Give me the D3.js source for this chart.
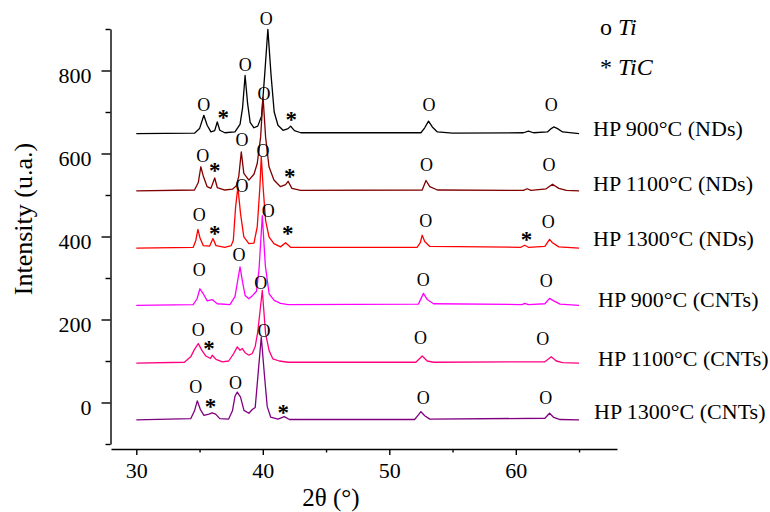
<!DOCTYPE html>
<html>
<head>
<meta charset="utf-8">
<script src="https://cdn.jsdelivr.net/npm/d3@7"></script>
<style>
    body { margin: 0; background: #ffffff; }
</style>
</head>
<body>
<div id="chart"></div>
<script>

// axis ticks
let xTicks = [30, 40, 50, 60];
let xMinorTicks = [35, 45, 55, 65];
let yTicks = [0, 200, 400, 600, 800];
let yMinorTicks = [-100, 100, 300, 500, 700, 900];

let seriesNames = ['HP 900°C (NDs)', 'HP 1100°C (NDs)', 'HP 1300°C (NDs)',
                   'HP 900°C (CNTs)', 'HP 1100°C (CNTs)', 'HP 1300°C (CNTs)'];
let seriesColors = ['#000000', '#800000', '#ff0000', '#ff00ff', '#ff0080', '#800080'];

// [2theta, intensity]
let hp900NDs = [[30,648],[34.6,649],[35.0,660],[35.34,692],[35.6,668],[35.9,652],[36.2,655],[36.4,676],[36.6,656],
    [37.0,650],[37.8,652],[38.2,670],[38.4,710],[38.6,788],[38.8,720],[39.0,675],[39.3,662],[39.6,666],[39.9,690],
    [40.15,790],[40.4,899],[40.65,790],[40.9,700],[41.2,668],[41.6,656],[42.0,660],[42.2,666],[42.5,655],[43,650],
    [52.5,650],[52.8,662],[53.1,678],[53.4,664],[53.8,652],[55,649],[60.6,650],[61.0,654],[61.4,650],
    [62.5,652],[62.8,660],[63.0,664],[63.3,660],[63.7,652],[65,648]];
let hp1100NDs = [[30,510],[34.6,512],[34.9,530],[35.1,568],[35.3,545],[35.6,520],[35.9,516],[36.2,541],[36.4,518],
    [37.0,512],[37.6,514],[37.9,522],[38.1,545],[38.3,604],[38.5,552],[38.9,536],[39.3,550],[39.56,576],[39.83,640],
    [40.02,736],[40.22,640],[40.49,568],[40.88,536],[41.4,520],[41.8,525],[42.0,533],[42.3,516],[43,511],
    [52.6,512],[52.9,535],[53.2,520],[53.8,512],[60.6,511],[60.9,515],[61.2,511],[62.4,515],[62.9,526],
    [63.4,516],[64,511],[65,510]];
let hp1300NDs = [[30,372],[34.5,374],[34.7,390],[34.87,417],[35.05,395],[35.3,378],[35.8,377],[36.06,395],[36.3,378],
    [37.0,374],[37.5,378],[37.67,391],[37.85,471],[38.03,519],[38.24,455],[38.5,399],[38.9,383],[39.3,384],
    [39.56,423],[39.77,519],[39.88,592],[40.04,512],[40.22,439],[40.49,399],[40.88,383],[41.4,375],[41.8,385],
    [42.2,374],[52.2,374],[52.45,385],[52.6,403],[52.8,388],[53.2,376],[60.4,374],[60.7,379],[61.0,374],
    [62.3,376],[62.67,393],[62.9,385],[63.4,375],[65,372]];
let hp900CNTs = [[30,234],[34.5,236],[34.8,250],[35.03,274],[35.3,262],[35.6,245],[36.0,248],[36.4,238],[37.4,236],
    [37.8,255],[38.05,300],[38.2,327],[38.4,290],[38.6,258],[38.9,250],[39.2,258],[39.5,268],[39.7,320],[39.96,450],
    [40.2,330],[40.5,262],[40.9,246],[41.4,239],[42,236],[52.3,237],[52.7,263],[53.0,248],[53.5,238],[60.5,236],
    [60.7,239],[61,236],[62.3,238],[62.67,251],[63.0,245],[63.5,237],[65,234]];
let hp1100CNTs = [[30,95],[33.8,97],[34.3,110],[34.6,128],[34.9,142],[35.2,125],[35.5,112],[35.87,106],[36.0,114],
    [36.3,104],[36.8,98],[37.3,100],[37.7,118],[37.98,134],[38.2,126],[38.38,130],[38.6,120],[38.9,114],[39.17,118],
    [39.4,135],[39.6,170],[39.96,270],[40.22,166],[40.5,125],[40.8,105],[41.3,100],[42,97],[52.1,97],[52.6,112],
    [53.0,100],[53.5,97],[62.3,98],[62.8,110],[63.2,100],[63.7,96],[65,95]];
let hp1300CNTs = [[30,-42],[34.3,-39],[34.6,-20],[34.82,4],[35.08,-18],[35.35,-31],[35.74,-28],[36.0,-25],[36.27,-28],
    [36.6,-39],[37.3,-40],[37.6,-20],[37.8,15],[37.98,25],[38.24,13],[38.51,-19],[38.9,-26],[39.17,-17],[39.4,-12],
    [39.56,45],[39.88,158],[40.14,62],[40.35,-10],[40.62,-35],[41.2,-40],[41.7,-34],[42.1,-41],[52.0,-41],
    [52.3,-30],[52.5,-22],[52.8,-32],[53.2,-40],[62.3,-38],[62.67,-26],[63.0,-36],[63.5,-41],[65,-42]];

// phase marks: [2theta, intensity, symbol]  O = Ti, * = TiC
let marks900NDs = [[35.34,716,'O'],[36.88,697,'*'],[38.62,813,'O'],[40.28,924,'O'],[42.25,692,'*'],[53.13,716,'O'],[62.81,716,'O']];
let marks1100NDs = [[35.26,593,'O'],[36.21,570,'*'],[38.35,632,'O'],[40.09,743,'O'],[42.14,556,'*'],[52.95,573,'O'],[62.62,572,'O']];
let marks1300NDs = [[34.98,453,'O'],[36.21,417,'*'],[38.36,521,'O'],[40.01,605,'O'],[41.98,417,'*'],[52.89,438,'O'],[60.85,403,'*'],[62.57,435,'O']];
let marks900CNTs = [[34.98,319,'O'],[38.11,355,'O'],[40.43,461,'O'],[52.69,296,'O'],[62.41,292,'O']];
let marks1100CNTs = [[34.9,174,'O'],[35.74,142,'*'],[37.93,178,'O'],[39.83,289,'O'],[52.47,156,'O'],[62.14,152,'O']];
let marks1300CNTs = [[34.69,38,'O'],[35.87,1,'*'],[37.85,46,'O'],[40.09,172,'O'],[41.62,-14,'*'],[52.69,11,'O'],[62.36,10,'O']];

let seriesData = [hp900NDs, hp1100NDs, hp1300NDs, hp900CNTs, hp1100CNTs, hp1300CNTs];
let seriesMarks = [marks900NDs, marks1100NDs, marks1300NDs, marks900CNTs, marks1100CNTs, marks1300CNTs];

// one family only: the renderer does not take a fallback list
let serifFont = "'Liberation Serif'";


function createSVG(containerId, width, height) {
    try {
        return d3.select(containerId)
            .append('svg')
            .attr('width', width)
            .attr('height', height);
    } catch (error) {
        console.log('Function: createSVG. Error: ' + error);
        return null;
    }
}

function createAxes(svg, x, y) {
    try {
        // y axis, ticks outward to the left
        let gy = svg.append('g').attr('transform', 'translate(110.5,0)');
        gy.call(d3.axisLeft(y).tickValues(yTicks).tickSize(9).tickSizeOuter(0).tickPadding(10));
        gy.append('g').call(d3.axisLeft(y).tickValues(yMinorTicks).tickSize(5).tickFormat(''))
            .select('.domain').remove();
        gy.selectAll('text').attr('font-size', 22).attr('dy', '0.55em');

        // x axis, detached under the y axis
        let gx = svg.append('g').attr('transform', 'translate(0,449)');
        gx.call(d3.axisBottom(x).tickValues(xTicks).tickSize(6).tickSizeOuter(0).tickPadding(7));
        gx.append('g').call(d3.axisBottom(x).tickValues(xMinorTicks).tickSize(3.5).tickFormat(''))
            .select('.domain').remove();
        gx.selectAll('text').attr('font-size', 22);

        svg.selectAll('.domain, .tick line').attr('stroke', '#000').attr('stroke-width', 1.4);

        svg.append('text')
            .attr('x', 331).attr('y', 506)
            .attr('text-anchor', 'middle')
            .attr('font-size', 25)
            .text('2θ (°)');

        svg.append('text')
            .attr('transform', 'translate(32,219) rotate(-90)')
            .attr('text-anchor', 'middle')
            .attr('font-size', 26)
            .text('Intensity (u.a.)');
    } catch (error) {
        console.log('Function: createAxes. Error: ' + error);
    }
}

function createPatterns(svg, x, y) {
    try {
        let line = d3.line().x(d => x(d[0])).y(d => y(d[1]));

        svg.selectAll('path.pattern')
            .data(seriesData).enter()
            .append('path')
            .attr('class', 'pattern')
            .attr('d', d => line(d))
            .attr('fill', 'none')
            .attr('stroke', (d, i) => seriesColors[i])
            .attr('stroke-width', 1.3)
            .attr('stroke-linejoin', 'round');
    } catch (error) {
        console.log('Function: createPatterns. Error: ' + error);
    }
}

function createMarks(svg, x, y) {
    try {
        let all = [];
        seriesMarks.forEach(list => list.forEach(m => all.push(m)));

        svg.selectAll('text.mark')
            .data(all).enter()
            .append('text')
            .attr('class', 'mark')
            .attr('x', d => x(d[0]))
            .attr('y', d => y(d[1]) + (d[2] === '*' ? 12 : 6))
            .attr('text-anchor', 'middle')
            .attr('font-size', d => d[2] === '*' ? 23 : 18)
            .attr('font-weight', d => d[2] === '*' ? 'bold' : 'normal')
            .text(d => d[2]);
    } catch (error) {
        console.log('Function: createMarks. Error: ' + error);
    }
}

function createLabels(svg) {
    try {
        let labelX = [593, 593, 593, 598, 598, 594];
        let labelY = [136, 191, 246, 307, 366, 419];

        svg.selectAll('text.series')
            .data(seriesNames).enter()
            .append('text')
            .attr('class', 'series')
            .attr('x', (d, i) => labelX[i])
            .attr('y', (d, i) => labelY[i])
            .attr('font-size', 22)
            .text(d => d);

        let ti = svg.append('text').attr('x', 600).attr('y', 35).attr('font-size', 24);
        ti.append('tspan').text('o ');
        ti.append('tspan').attr('font-style', 'italic').text('Ti');

        let tic = svg.append('text').attr('x', 600).attr('y', 75).attr('font-size', 24);
        tic.append('tspan').text('* ');
        tic.append('tspan').attr('font-style', 'italic').text('TiC');
    } catch (error) {
        console.log('Function: createLabels. Error: ' + error);
    }
}

let svg = createSVG('#chart', 770, 512);
let x = d3.scaleLinear().domain([28, 68]).range([111, 617]);
let y = d3.scaleLinear().domain([-100, 900]).range([444, 29]);

createPatterns(svg, x, y);
createAxes(svg, x, y);
createMarks(svg, x, y);
createLabels(svg);

// every text in the serif face, inline so the axis defaults do not win
svg.selectAll('text').style('font-family', serifFont).style('fill', '#000');

</script>
</body>
</html>
